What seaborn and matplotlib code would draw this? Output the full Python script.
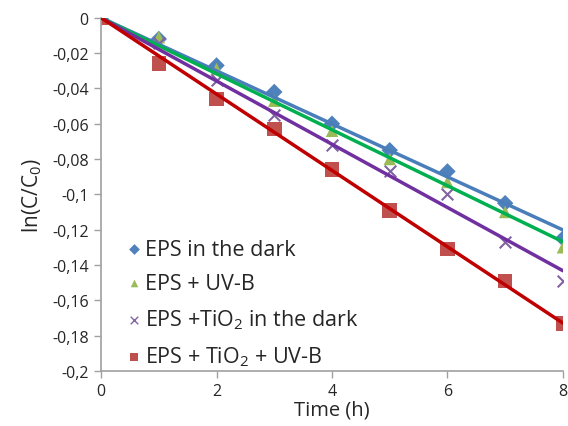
import numpy as np
import pandas as pd
import matplotlib
matplotlib.use("Agg")
import matplotlib.pyplot as plt
import seaborn as sns

time_h = [0, 1, 2, 3, 4, 5, 6, 7, 8]
eps_dark = [0, -0.012, -0.027, -0.042, -0.060, -0.075, -0.087, -0.105, -0.125]
eps_uvb = [0, -0.011, -0.029, -0.047, -0.064, -0.080, -0.093, -0.110, -0.130]
eps_tio2_dark = [0, -0.014, -0.035, -0.055, -0.072, -0.087, -0.100, -0.127, -0.149]
eps_tio2_uvb = [0, -0.026, -0.046, -0.063, -0.086, -0.109, -0.131, -0.149, -0.173]

series_names = ["EPS in the dark", "EPS + UV-B", "EPS +TiO$_2$ in the dark", "EPS + TiO$_2$ + UV-B"]
y_ticks = [0, -0.02, -0.04, -0.06, -0.08, -0.1, -0.12, -0.14, -0.16, -0.18, -0.2]
y_tick_labels = ["0", "-0,02", "-0,04", "-0,06", "-0,08", "-0,1", "-0,12", "-0,14", "-0,16", "-0,18", "-0,2"]
x_ticks = [0, 2, 4, 6, 8]

sns.set_style("white")
plt.rcParams['font.family'] = ['Open Sans', 'DejaVu Sans']
plt.rcParams['mathtext.fontset'] = 'custom'
plt.rcParams['mathtext.rm'] = 'Open Sans'

fig = plt.figure(figsize=(5.68, 4.27), dpi=100)
ax = fig.add_axes([0.178, 0.129, 0.813, 0.827])

marker_colors = ["#4F81BD", "#9BBB59", "#8064A2", "#C0504D"]
line_colors = ["#4A7EBB", "#00B050", "#7030A0", "#C00000"]
markers = ["D", "^", "x", "s"]
sizes = [70, 80, 70, 110]
data = [eps_dark, eps_uvb, eps_tio2_dark, eps_tio2_uvb]

handles = []
for name, y, mc, lc, m, s in zip(series_names, data, marker_colors, line_colors, markers, sizes):
    df = pd.DataFrame({"t": time_h, "y": y})
    kw = dict(color=mc, marker=m, s=s, ax=ax, zorder=2)
    if m == "x":
        kw.update(linewidths=1.5)
    else:
        kw.update(edgecolor="none")
    sns.scatterplot(data=df, x="t", y="y", **kw)
    # linear trendline through the origin, fitted to the series
    t = np.asarray(time_h, float)
    yy = np.asarray(y, float)
    slope = (t * yy).sum() / (t * t).sum()
    fit = pd.DataFrame({"t": [t.min(), t.max()], "y": [slope * t.min(), slope * t.max()]})
    sns.lineplot(data=fit, x="t", y="y", color=lc, lw=2.5, ax=ax, zorder=3)
    h = ax.scatter([], [], color=mc, marker=m, s=30,
                   linewidths=1.0 if m == "x" else 0)
    handles.append(h)

ax.set_xlim(0, 8)
ax.set_ylim(-0.2, 0)
ax.set_xticks(x_ticks)
ax.set_yticks(y_ticks)
ax.set_yticklabels(y_tick_labels)
ax.tick_params(axis="both", labelsize=11.5, length=5, width=1, color="#A0A0A0", direction="out",
               bottom=True, left=True, pad=4)
for sp in ["top", "right"]:
    ax.spines[sp].set_visible(False)
for sp in ["left", "bottom"]:
    ax.spines[sp].set_color("#A0A0A0")
    ax.spines[sp].set_linewidth(1.2)

ax.set_xlabel("Time (h)", fontsize=14.5, labelpad=0)
ax.set_ylabel("ln(C/C$_0$)", fontsize=15, labelpad=6)

leg = ax.legend(handles, series_names, loc="lower left", bbox_to_anchor=(0.02, -0.028),
                frameon=False, fontsize=15.5, handletextpad=0.0, labelspacing=0.62,
                handlelength=1.0, borderaxespad=0.2)

fig.savefig("out.png", dpi=100)
